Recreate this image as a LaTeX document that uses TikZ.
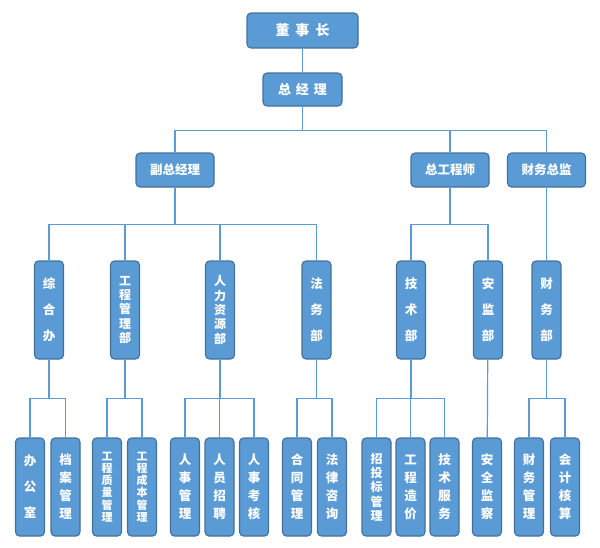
\documentclass[tikz,border=0pt]{standalone}
\usepackage{fontspec}
\setmainfont{Noto Sans CJK SC}
\usepackage{tikz}
\usetikzlibrary{positioning,calc}

\definecolor{boxfill}{HTML}{5B9BD5}
\definecolor{boxedge}{HTML}{41719C}
\definecolor{linkblue}{HTML}{5B9BD5}

\begin{document}
\begin{tikzpicture}[
  x=1pt, y=-1pt,
  box/.style={draw=boxedge, fill=boxfill, line width=1.1pt, rounded corners=4pt, text=white,
    align=center, inner sep=0pt, font=\fontsize{12.5}{14}\selectfont\bfseries},
  head/.style={box, minimum width=78pt, minimum height=34pt},
  vbox/.style={box, minimum width=29pt, minimum height=98pt},
  vthree/.style={vbox, font=\fontsize{12.5}{26}\selectfont\bfseries},
  vfour/.style={vbox, font=\fontsize{12.5}{18}\selectfont\bfseries},
  vfive/.style={vbox, font=\fontsize{12}{14.3}\selectfont\bfseries},
  vsix/.style={vbox, font=\fontsize{11}{12.2}\selectfont\bfseries},
  link/.style={draw=linkblue, line width=1.2pt}
]
  \useasboundingbox (0,0) rectangle (600,547);

  % top
  \node[head, minimum width=111pt, minimum height=35pt, font=\fontsize{14}{16}\selectfont\bfseries] (ceo) at (302.5,30.5) {董\hspace{6pt}事\hspace{6pt}长};
  \node[head, minimum width=79pt, minimum height=33pt, font=\fontsize{13}{15}\selectfont\bfseries] (gm) at (302.5,89.5) {总\hspace{5pt}经\hspace{5pt}理};

  \node[head] (vgm) at (175,170) {副总经理};
  \node[head] (cto) at (450,170) {总工程师};
  \node[head] (cfo) at (546.5,170) {财务总监};

  % departments
  \node[vthree] (zhb) at (49,310) {综\\合\\办};
  \node[vfive] (gcb) at (125,310) {工\\程\\管\\理\\部};
  \node[vfive] (rlb) at (220,310) {人\\力\\资\\源\\部};
  \node[vthree] (fwb) at (316.5,310) {法\\务\\部};
  \node[vthree] (jsb) at (411,310) {技\\术\\部};
  \node[vthree] (ajb) at (488,310) {安\\监\\部};
  \node[vthree] (cwb) at (546.5,310) {财\\务\\部};

  % sections
  \node[vthree] (bgs) at (30,487) {办\\公\\室};
  \node[vfour] (dagl) at (65.5,487) {档\\案\\管\\理};
  \node[vsix] (zlgl) at (107,487) {工\\程\\质\\量\\管\\理};
  \node[vsix] (cbgl) at (142,487) {工\\程\\成\\本\\管\\理};
  \node[vfour] (rsgl) at (185,487) {人\\事\\管\\理};
  \node[vfour] (ryzp) at (219.5,487) {人\\员\\招\\聘};
  \node[vfour] (rskh) at (254,487) {人\\事\\考\\核};
  \node[vfour] (htgl) at (297,487) {合\\同\\管\\理};
  \node[vfour] (flzx) at (332,487) {法\\律\\咨\\询};
  \node[vfive] (ztb) at (376.5,487) {招\\投\\标\\管\\理};
  \node[vfour] (zjia) at (410.5,487) {工\\程\\造\\价};
  \node[vfour] (jsfw) at (444.5,487) {技\\术\\服\\务};
  \node[vfour] (aqjc) at (487,487) {安\\全\\监\\察};
  \node[vfour] (cwgl) at (529,487) {财\\务\\管\\理};
  \node[vfour] (kjhs) at (565,487) {会\\计\\核\\算};

  % connectors
  \draw[link] (ceo) -- (gm);
  \draw[link] (gm.south) -- ++(0,24) -| (vgm.north);
  \draw[link] (gm.south) -- ++(0,24) -| (cto.north);
  \draw[link] (gm.south) -- ++(0,24) -| (cfo.north);

  \draw[link] (vgm.south) -- ++(0,37) -| (zhb.north);
  \draw[link] (vgm.south) -- ++(0,37) -| (gcb.north);
  \draw[link] (vgm.south) -- ++(0,37) -| (rlb.north);
  \draw[link] (vgm.south) -- ++(0,37) -| (fwb.north);
  \draw[link] (cto.south) -- ++(0,37) -| (jsb.north);
  \draw[link] (cto.south) -- ++(0,37) -| (ajb.north);
  \draw[link] (cfo) -- (cwb);

  \draw[link] (zhb.south) -- ++(0,39) -| (bgs.north);
  \draw[link] (zhb.south) -- ++(0,39) -| (dagl.north);
  \draw[link] (gcb.south) -- ++(0,39) -| (zlgl.north);
  \draw[link] (gcb.south) -- ++(0,39) -| (cbgl.north);
  \draw[link] (rlb.south) -- ++(0,39) -| (rsgl.north);
  \draw[link] (rlb.south) -- ++(0,39) -| (ryzp.north);
  \draw[link] (rlb.south) -- ++(0,39) -| (rskh.north);
  \draw[link] (fwb.south) -- ++(0,39) -| (htgl.north);
  \draw[link] (fwb.south) -- ++(0,39) -| (flzx.north);
  \draw[link] (jsb.south) -- ++(0,39) -| (ztb.north);
  \draw[link] (jsb.south) -- ++(0,39) -| (zjia.north);
  \draw[link] (jsb.south) -- ++(0,39) -| (jsfw.north);
  \draw[link] (ajb) -- (aqjc);
  \draw[link] (cwb.south) -- ++(0,39) -| (cwgl.north);
  \draw[link] (cwb.south) -- ++(0,39) -| (kjhs.north);
\end{tikzpicture}
\end{document}
